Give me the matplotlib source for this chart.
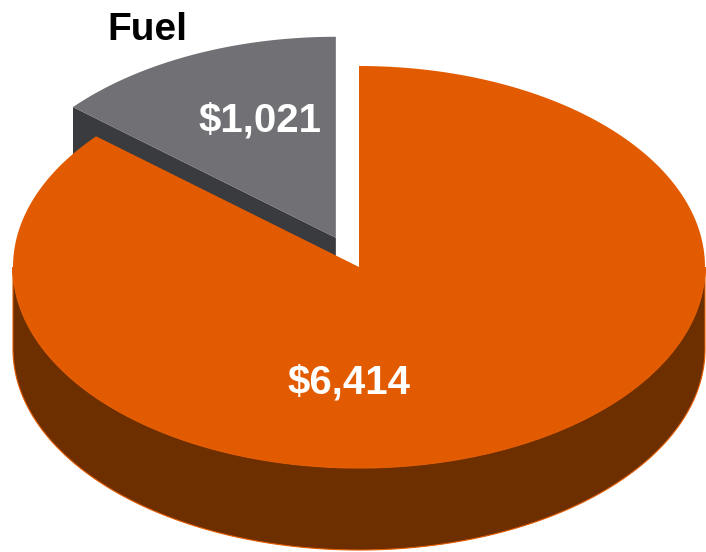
import numpy as np
import matplotlib
matplotlib.use("Agg")
import matplotlib.pyplot as plt
from matplotlib.patches import Polygon

# Data
categories = ["Other", "Fuel"]
values = [6414, 1021]
value_labels = ["$6,414", "$1,021"]

# Style / geometry
top_colors = ["#E35B00", "#717075"]
side_colors = ["#6E2F00", "#3A3B3F"]
cx, cy = 359, 267      # ellipse centre (pixels)
a, b = 346, 201        # semi axes
depth = 82
explode = [0.0, 0.16]

fig = plt.figure(figsize=(7.06, 5.52), dpi=100)
ax = fig.add_axes([0, 0, 1, 1])
ax.set_xlim(0, 706)
ax.set_ylim(552, 0)
ax.axis("off")

total = sum(values)
# slices: start at 90deg; first slice goes clockwise, second counter-clockwise (Fuel at upper left)
fuel_sweep = 360.0 * values[1] / total
t_split = 90 + fuel_sweep
# angle ranges (degrees, parametric): orange from t_split to 450, fuel from 90 to t_split
ranges = [(t_split, 450.0), (90.0, t_split)]


def pt(t, ox, oy, dz=0.0):
    r = np.radians(t)
    return (cx + ox + a * np.cos(r), cy + oy - b * np.sin(r) + dz)


def offset(i):
    t0, t1 = ranges[i]
    mid = np.radians((t0 + t1) / 2)
    return a * explode[i] * np.cos(mid), -b * explode[i] * np.sin(mid)


# ---- Fuel slice (drawn first, behind) ----
ox, oy = offset(1)
t0, t1 = ranges[1]
# cut face at t1 (faces viewer)
v = (cx + ox, cy + oy)
p = pt(t1, ox, oy)
face = [v, p, (p[0], p[1] + depth), (v[0], v[1] + depth)]
ax.add_patch(Polygon(face, closed=True, facecolor=side_colors[1], edgecolor="none"))
ts = np.linspace(t0, t1, 200)
top = [v] + [pt(t, ox, oy) for t in ts]
ax.add_patch(Polygon(top, closed=True, facecolor=top_colors[1], edgecolor="none"))

# ---- Main slice ----
ox, oy = offset(0)
ts = np.linspace(180, 360, 300)
upper = [pt(t, ox, oy) for t in ts]
lower = [pt(t, ox, oy, depth) for t in ts[::-1]]
ax.add_patch(Polygon(upper + lower, closed=True, facecolor=side_colors[0],
                     edgecolor=top_colors[0], linewidth=0.8))
t0, t1 = ranges[0]
ts = np.linspace(t0, t1, 400)
v = (cx + ox, cy + oy)
top = [v] + [pt(t, ox, oy) for t in ts]
ax.add_patch(Polygon(top, closed=True, facecolor=top_colors[0], edgecolor="none"))

font = "Liberation Sans"
ax.text(349, 393, value_labels[0], color="white", fontsize=29, fontweight="bold",
        family=font, ha="center", va="baseline")
ax.text(260, 132, value_labels[1], color="white", fontsize=29, fontweight="bold",
        family=font, ha="center", va="baseline")
ax.text(147, 40, categories[1], color="black", fontsize=28, fontweight="bold",
        family=font, ha="center", va="baseline")

fig.savefig("out.png", dpi=100)
